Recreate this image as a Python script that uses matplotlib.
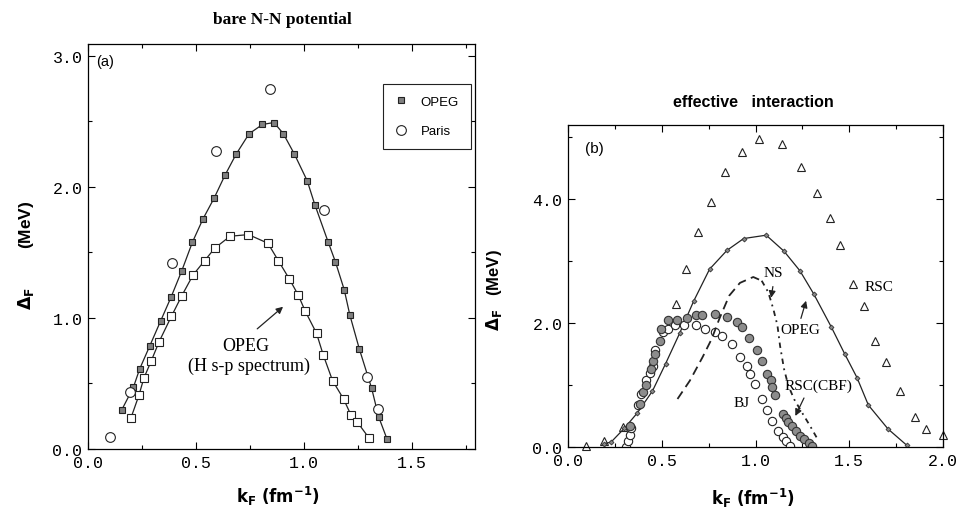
import numpy as np
import matplotlib.pyplot as plt
from matplotlib.ticker import MultipleLocator

plt.rcParams['mathtext.fontset'] = 'dejavusans'

# ---- panel (a): bare N-N potential ----
opeg_k = [0.156, 0.210, 0.239, 0.285, 0.336, 0.384, 0.434, 0.483, 0.532, 0.583, 0.633, 0.685,
          0.745, 0.807, 0.860, 0.903, 0.955, 1.014, 1.049, 1.110, 1.144, 1.185, 1.211, 1.255,
          1.312, 1.344, 1.383]
opeg_gap = [0.298, 0.471, 0.611, 0.784, 0.977, 1.158, 1.361, 1.578, 1.756, 1.913, 2.087, 2.249,
            2.405, 2.476, 2.491, 2.407, 2.249, 2.046, 1.865, 1.583, 1.430, 1.216, 1.023, 0.763,
            0.463, 0.247, 0.076]
hsp_k = [0.198, 0.236, 0.258, 0.293, 0.329, 0.386, 0.434, 0.486, 0.540, 0.586, 0.657, 0.742,
         0.832, 0.880, 0.931, 0.972, 1.005, 1.057, 1.088, 1.131, 1.182, 1.216, 1.244, 1.301]
hsp_gap = [0.234, 0.412, 0.539, 0.674, 0.819, 1.013, 1.170, 1.328, 1.438, 1.532, 1.623, 1.636,
           1.570, 1.438, 1.298, 1.176, 1.051, 0.883, 0.718, 0.522, 0.382, 0.260, 0.209, 0.081]
paris_k = [0.102, 0.194, 0.387, 0.593, 0.844, 1.093, 1.290, 1.343]
paris_gap = [0.089, 0.433, 1.417, 2.277, 2.743, 1.824, 0.547, 0.305]

# ---- panel (b): effective interaction ----
rsc_k = [0.095, 0.191, 0.295, 0.575, 0.629, 0.693, 0.764, 0.839, 0.927, 1.020, 1.143, 1.245,
         1.330, 1.396, 1.452, 1.520, 1.577, 1.638, 1.695, 1.768, 1.852, 1.907, 2.000]
rsc_gap = [0.016, 0.091, 0.323, 2.312, 2.876, 3.468, 3.941, 4.435, 4.747, 4.968, 4.876, 4.511,
           4.097, 3.694, 3.253, 2.629, 2.274, 1.710, 1.371, 0.898, 0.484, 0.296, 0.188]
opegb_k = [0.19, 0.23, 0.30, 0.37, 0.45, 0.52, 0.595, 0.67, 0.755, 0.848, 0.937, 1.057, 1.152,
           1.237, 1.31, 1.405, 1.475, 1.541, 1.602, 1.707, 1.806]
opegb_gap = [0.05, 0.08, 0.30, 0.55, 0.90, 1.34, 1.83, 2.35, 2.866, 3.17, 3.36, 3.414, 3.156,
             2.84, 2.47, 1.93, 1.505, 1.12, 0.675, 0.29, 0.03]
bj_k = [0.307, 0.320, 0.329, 0.338, 0.373, 0.391, 0.418, 0.436, 0.453, 0.466, 0.507, 0.534,
        0.573, 0.619, 0.680, 0.732, 0.783, 0.819, 0.873, 0.917, 0.953, 0.971, 0.997, 1.033,
        1.060, 1.090, 1.119, 1.149, 1.163, 1.185]
bj_gap = [0.0, 0.10, 0.20, 0.30, 0.67, 0.86, 1.085, 1.19, 1.30, 1.57, 1.86, 1.90,
          1.96, 1.96, 1.96, 1.90, 1.86, 1.785, 1.66, 1.45, 1.31, 1.18, 1.02, 0.77,
          0.60, 0.42, 0.26, 0.155, 0.09, 0.01]
cbf_k = [0.329, 0.382, 0.400, 0.418, 0.445, 0.454, 0.463, 0.489, 0.498, 0.534, 0.579, 0.635,
         0.680, 0.716, 0.783, 0.849, 0.899, 0.926, 0.965, 1.006, 1.033, 1.060, 1.081, 1.090,
         1.104, 1.149, 1.161, 1.175, 1.193, 1.215, 1.238, 1.259, 1.283, 1.302]
cbf_gap = [0.34, 0.69, 0.88, 1.00, 1.26, 1.39, 1.50, 1.715, 1.90, 2.04, 2.04, 2.075,
           2.13, 2.13, 2.145, 2.09, 2.01, 1.93, 1.76, 1.57, 1.39, 1.18, 1.085, 0.96,
           0.84, 0.53, 0.46, 0.40, 0.345, 0.26, 0.18, 0.13, 0.06, 0.01]
ns_k = [0.584, 0.650, 0.718, 0.766, 0.807, 0.860, 0.917, 0.988, 1.033, 1.068, 1.095, 1.117,
        1.131, 1.152, 1.175, 1.206, 1.247, 1.291, 1.336]
ns_gap = [0.774, 1.07, 1.45, 1.74, 2.065, 2.44, 2.645, 2.74, 2.68, 2.495, 2.225, 1.96,
          1.63, 1.26, 0.99, 0.77, 0.56, 0.34, 0.10]

mono = 'Liberation Mono'
serif = 'Liberation Serif'
sans = 'Liberation Sans'

fig = plt.figure(figsize=(9.61, 5.10), dpi=100)
ax1 = fig.add_axes([88 / 961, 1 - 450 / 510, 387 / 961, 405 / 510])
ax2 = fig.add_axes([568 / 961, 1 - 448 / 510, 375 / 961, 322 / 510])


def style_axes(ax):
    ax.tick_params(which='both', direction='in', top=True, right=True, width=0.8)
    ax.tick_params(which='major', length=5, labelsize=12, pad=4)
    ax.tick_params(which='minor', length=3)
    for lab in ax.get_xticklabels() + ax.get_yticklabels():
        lab.set_family(mono)
    for sp in ax.spines.values():
        sp.set_linewidth(0.9)


# panel (a)
ax1.plot(opeg_k, opeg_gap, '-', color='#222', lw=0.9)
ax1.plot(opeg_k, opeg_gap, 's', ms=5, mfc='#808080', mec='#222', mew=0.8, label='OPEG')
ax1.plot(hsp_k, hsp_gap, '-', color='#222', lw=0.9)
ax1.plot(hsp_k, hsp_gap, 's', ms=5.5, mfc='white', mec='#222', mew=0.8)
ax1.plot(paris_k, paris_gap, 'o', ms=7, mfc='white', mec='#222', mew=0.8, label='Paris')
ax1.set_xlim(0, 1.79)
ax1.set_ylim(0, 3.09)
ax1.xaxis.set_major_locator(MultipleLocator(0.5))
ax1.xaxis.set_minor_locator(MultipleLocator(0.25))
ax1.yaxis.set_major_locator(MultipleLocator(1.0))
ax1.yaxis.set_minor_locator(MultipleLocator(0.5))
ax1.xaxis.set_major_formatter(lambda v, p: f'{v:.1f}')
ax1.yaxis.set_major_formatter(lambda v, p: f'{v:.1f}')
style_axes(ax1)
ax1.text(0.02, 0.975, '(a)', transform=ax1.transAxes, family=sans, fontsize=10.5, va='top')
leg = ax1.legend(loc='upper left', bbox_to_anchor=(0.744, 0.918), numpoints=1,
                 fancybox=False, edgecolor='#222', framealpha=1, labelspacing=1.3,
                 borderpad=0.9, handletextpad=1.0, handlelength=1.0,
                 prop={'family': sans, 'size': 9.5})
leg.get_frame().set_linewidth(0.8)
ax1.annotate('', xy=(0.912, 1.099), xytext=(0.773, 0.903),
             arrowprops=dict(arrowstyle='-|>', color='#222', lw=0.9, mutation_scale=10))
ax1.text(0.730, 0.789, 'OPEG', family=serif, fontsize=13, ha='center', va='center')
ax1.text(0.745, 0.636, '(H s-p spectrum)', family=serif, fontsize=13, ha='center', va='center')
ax1.set_xlabel(r'$\mathbf{k_F\ (fm^{-1})}$', fontsize=12)
ax1.xaxis.set_label_coords(0.49, -0.085)
ax1.set_ylabel(r'$\mathbf{\Delta_F}$        (MeV)', fontsize=12.5, family=sans, fontweight='bold')
ax1.yaxis.set_label_coords(-0.135, 0.48)

# panel (b)
ax2.plot(rsc_k, rsc_gap, '^', ms=5.5, mfc='white', mec='#222', mew=0.8, clip_on=False)
ax2.plot(opegb_k, opegb_gap, '-', color='#222', lw=0.9)
ax2.plot(opegb_k, opegb_gap, 'D', ms=2.5, mfc='#888', mec='#333', mew=0.6)
ax2.plot(bj_k, bj_gap, 'o', ms=6, mfc='white', mec='#222', mew=0.8)
ax2.plot(cbf_k, cbf_gap, 'o', ms=6, mfc='#8c8c8c', mec='#333', mew=0.8)
ax2.plot(ns_k[:9], ns_gap[:9], color='#222', lw=1.3, dashes=(5, 3))
ax2.plot(ns_k[8:], ns_gap[8:], color='#222', lw=1.3, dashes=(3, 2.5, 1, 2.5))
ax2.set_xlim(0, 2.0)
ax2.set_ylim(0, 5.19)
ax2.xaxis.set_major_locator(MultipleLocator(0.5))
ax2.xaxis.set_minor_locator(MultipleLocator(0.25))
ax2.yaxis.set_major_locator(MultipleLocator(2.0))
ax2.yaxis.set_minor_locator(MultipleLocator(1.0))
ax2.xaxis.set_major_formatter(lambda v, p: f'{v:.1f}')
ax2.yaxis.set_major_formatter(lambda v, p: f'{v:.1f}')
style_axes(ax2)
ax2.text(0.045, 0.95, '(b)', transform=ax2.transAxes, family=sans, fontsize=11, va='top')

arrow = dict(arrowstyle='-|>', color='#222', lw=0.9, mutation_scale=10)
ax2.text(1.095, 2.82, 'NS', family=serif, fontsize=11, ha='center', va='center')
ax2.annotate('', xy=(1.081, 2.36), xytext=(1.095, 2.63), arrowprops=arrow)
ax2.text(1.238, 1.90, 'OPEG', family=serif, fontsize=11, ha='center', va='center')
ax2.annotate('', xy=(1.274, 2.40), xytext=(1.238, 2.03), arrowprops=arrow)
ax2.text(1.66, 2.59, 'RSC', family=serif, fontsize=11, ha='center', va='center')
ax2.text(1.336, 1.0, 'RSC(CBF)', family=serif, fontsize=11, ha='center', va='center')
ax2.annotate('', xy=(1.206, 0.46), xytext=(1.265, 0.83), arrowprops=arrow)
ax2.text(0.926, 0.72, 'BJ', family=serif, fontsize=11, ha='center', va='center')
ax2.set_xlabel(r'$\mathbf{k_F\ (fm^{-1})}$', fontsize=12)
ax2.xaxis.set_label_coords(0.493, -0.12)
ax2.set_ylabel(r'$\mathbf{\Delta_F}$   (MeV)', fontsize=12, family=sans, fontweight='bold')
ax2.yaxis.set_label_coords(-0.17, 0.49)

fig.text(282 / 961, 1 - 20 / 510, 'bare N-N potential', family=serif, fontweight='bold',
         fontsize=12.5, ha='center', va='center')
fig.text(753 / 961, 1 - 103 / 510, 'effective   interaction', family=sans, fontweight='bold',
         fontsize=11.5, ha='center', va='center')

fig.savefig('out.png', dpi=100, facecolor='white')
